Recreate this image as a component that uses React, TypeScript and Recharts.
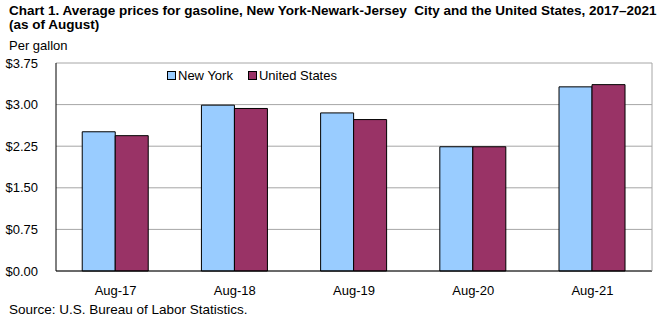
import { Bar, BarChart, CartesianGrid, XAxis, YAxis } from "recharts";

const months = ["Aug-17", "Aug-18", "Aug-19", "Aug-20", "Aug-21"];
const newYork = [2.51, 2.99, 2.85, 2.24, 3.32];
const unitedStates = [2.44, 2.93, 2.73, 2.24, 3.36];
const yTicks = [0, 0.75, 1.5, 2.25, 3.0, 3.75];

const data = months.map((m, i) => ({
  month: m,
  ny: newYork[i],
  us: unitedStates[i],
}));

const font = "'Liberation Sans', Arial, sans-serif";

function LegendBox() {
  const items = [
    { label: "New York", color: "#99ccff" },
    { label: "United States", color: "#993366" },
  ];
  return (
    <div
      style={{
        position: "absolute",
        left: 167,
        top: 68,
        display: "flex",
        fontFamily: font,
        fontSize: 13,
        color: "#000",
      }}
    >
      {items.map((it) => (
        <div key={it.label} style={{ display: "flex", alignItems: "center", marginRight: 15 }}>
          <span
            style={{
              display: "inline-block",
              width: 7,
              height: 7,
              background: it.color,
              border: "1px solid #000",
              marginRight: 2,
            }}
          />
          {it.label}
        </div>
      ))}
    </div>
  );
}

export default function App() {
  return (
    <div style={{ position: "absolute", left: 0, top: 0, width: 663, height: 323, background: "#fff" }}>
      <div
        style={{
          position: "absolute",
          left: 9,
          top: 4,
          fontFamily: font,
          fontWeight: "bold",
          fontSize: 13.5,
          lineHeight: "14px",
          whiteSpace: "pre",
          color: "#000",
        }}
      >
        {"Chart 1. Average prices for gasoline, New York-Newark-Jersey  City and the United States, 2017–2021\n(as of August)"}
      </div>
      <div
        style={{
          position: "absolute",
          left: 9,
          top: 38,
          fontFamily: font,
          fontSize: 13,
          color: "#000",
        }}
      >
        Per gallon
      </div>
      <BarChart
        width={663}
        height={323}
        data={data}
        margin={{ top: 63, right: 10, bottom: 22, left: 0 }}
        barCategoryGap="22%"
        barGap={0}
      >
        <CartesianGrid vertical={false} stroke="#a6a6a6" />
        <XAxis
          dataKey="month"
          height={30}
          axisLine={{ stroke: "#000" }}
          tickLine={false}
          tick={{ fill: "#000", fontSize: 13, fontFamily: font }}
          tickMargin={9}
        />
        <YAxis
          width={56}
          domain={[0, 3.75]}
          ticks={yTicks}
          interval={0}
          axisLine={{ stroke: "#000" }}
          tickLine={false}
          tickFormatter={(v: number) => `$${v.toFixed(2)}`}
          tick={{ fill: "#000", fontSize: 13, fontFamily: font }}
          tickMargin={12}
        />
        <YAxis
          yAxisId="r"
          orientation="right"
          width={1}
          axisLine={{ stroke: "#a6a6a6" }}
          tickLine={false}
          tick={false}
        />
        <Bar dataKey="ny" name="New York" fill="#99ccff" stroke="#000" strokeWidth={1} isAnimationActive={false} />
        <Bar dataKey="us" name="United States" fill="#993366" stroke="#000" strokeWidth={1} isAnimationActive={false} />
      </BarChart>
      <LegendBox />
      <div
        style={{
          position: "absolute",
          left: 9,
          top: 302,
          fontFamily: font,
          fontSize: 13.5,
          color: "#000",
        }}
      >
        Source: U.S. Bureau of Labor Statistics.
      </div>
    </div>
  );
}
